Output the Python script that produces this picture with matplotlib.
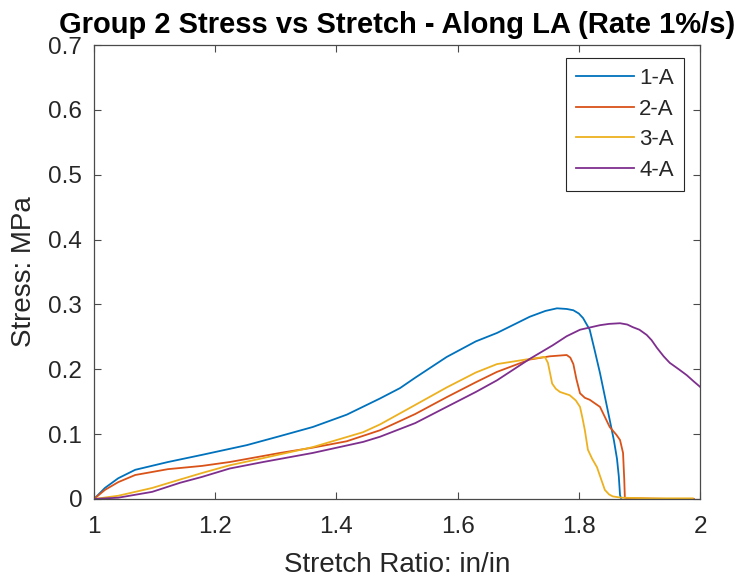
import matplotlib
matplotlib.use("Agg")
import matplotlib.pyplot as plt

# Stress-stretch curves, specimens along LA
stretch_1a = [1.0, 1.018, 1.040, 1.068, 1.122, 1.178, 1.252, 1.307, 1.361, 1.417, 1.472, 1.505, 1.530, 1.582, 1.630, 1.665, 1.719, 1.745, 1.764, 1.780, 1.791, 1.800, 1.807, 1.818, 1.826, 1.835, 1.843, 1.851, 1.858, 1.863, 1.866, 1.868, 1.870]
stress_1a = [0.0, 0.017, 0.032, 0.045, 0.057, 0.068, 0.083, 0.097, 0.111, 0.130, 0.155, 0.171, 0.187, 0.219, 0.243, 0.256, 0.281, 0.290, 0.294, 0.293, 0.291, 0.286, 0.279, 0.261, 0.230, 0.194, 0.158, 0.122, 0.090, 0.062, 0.035, 0.006, 0.0]

stretch_2a = [1.0, 1.018, 1.040, 1.068, 1.122, 1.178, 1.224, 1.307, 1.360, 1.417, 1.472, 1.530, 1.582, 1.630, 1.665, 1.719, 1.752, 1.780, 1.786, 1.791, 1.796, 1.802, 1.810, 1.818, 1.835, 1.851, 1.862, 1.868, 1.873, 1.875, 1.876, 1.880, 1.90, 1.95, 1.99]
stress_2a = [0.0, 0.014, 0.026, 0.037, 0.046, 0.051, 0.057, 0.071, 0.079, 0.089, 0.106, 0.131, 0.157, 0.180, 0.196, 0.215, 0.220, 0.222, 0.218, 0.208, 0.185, 0.163, 0.156, 0.153, 0.142, 0.111, 0.099, 0.091, 0.071, 0.030, 0.002, 0.001, 0.001, 0.0, 0.0]

stretch_3a = [1.0, 1.040, 1.096, 1.142, 1.178, 1.224, 1.279, 1.361, 1.444, 1.472, 1.530, 1.582, 1.630, 1.665, 1.719, 1.744, 1.749, 1.753, 1.756, 1.762, 1.769, 1.785, 1.795, 1.802, 1.806, 1.810, 1.815, 1.822, 1.830, 1.837, 1.843, 1.850, 1.856, 1.870, 1.920, 1.988]
stress_3a = [0.0, 0.005, 0.017, 0.030, 0.040, 0.052, 0.063, 0.080, 0.103, 0.115, 0.145, 0.172, 0.195, 0.208, 0.216, 0.219, 0.210, 0.192, 0.178, 0.170, 0.165, 0.160, 0.152, 0.142, 0.125, 0.106, 0.076, 0.062, 0.049, 0.030, 0.014, 0.007, 0.004, 0.002, 0.001, 0.001]

stretch_4a = [1.0, 1.040, 1.096, 1.142, 1.178, 1.224, 1.279, 1.361, 1.444, 1.472, 1.530, 1.582, 1.630, 1.665, 1.719, 1.757, 1.780, 1.802, 1.835, 1.850, 1.868, 1.880, 1.889, 1.900, 1.912, 1.920, 1.929, 1.940, 1.950, 1.965, 1.978, 1.990, 2.0]
stress_4a = [0.0, 0.002, 0.011, 0.025, 0.034, 0.047, 0.057, 0.071, 0.088, 0.096, 0.117, 0.142, 0.165, 0.183, 0.216, 0.237, 0.251, 0.261, 0.268, 0.270, 0.271, 0.269, 0.265, 0.261, 0.253, 0.245, 0.233, 0.220, 0.210, 0.200, 0.191, 0.181, 0.173]

labels = ["1-A", "2-A", "3-A", "4-A"]
colors = ["#0072BD", "#D95319", "#EDB120", "#7E2F8E"]

x_ticks = [1, 1.2, 1.4, 1.6, 1.8, 2]
x_ticklabels = ["1", "1.2", "1.4", "1.6", "1.8", "2"]
y_ticks = [0, 0.1, 0.2, 0.3, 0.4, 0.5, 0.6, 0.7]
y_ticklabels = ["0", "0.1", "0.2", "0.3", "0.4", "0.5", "0.6", "0.7"]

plt.rcParams["font.family"] = ["Liberation Sans", "DejaVu Sans"]

axis_gray = "#262626"
spine_gray = "#4a4a4a"

fig = plt.figure(figsize=(7.42, 5.83), dpi=100)
ax = fig.add_axes([0.1267, 0.1441, 0.8167, 0.7787])

series = [(stretch_1a, stress_1a), (stretch_2a, stress_2a), (stretch_3a, stress_3a), (stretch_4a, stress_4a)]
for (xs, ys), lab, col in zip(series, labels, colors):
    ax.plot(xs, ys, color=col, lw=1.3, label=lab)

ax.set_xlim(1, 2)
ax.set_ylim(0, 0.7)
ax.set_xticks(x_ticks)
ax.set_xticklabels(x_ticklabels)
ax.set_yticks(y_ticks)
ax.set_yticklabels(y_ticklabels)
ax.tick_params(direction="in", top=True, right=True, length=5, width=0.8,
               color=spine_gray, labelcolor=axis_gray, labelsize=17.5)
ax.tick_params(axis="x", pad=12)
ax.tick_params(axis="y", pad=8.5)
for sp in ax.spines.values():
    sp.set_color(spine_gray)
    sp.set_linewidth(0.9)

ax.set_xlabel("Stretch Ratio: in/in", fontsize=20, color=axis_gray, labelpad=10)
ax.set_ylabel("Stress: MPa", fontsize=20, color=axis_gray, labelpad=8)
ax.set_title("Group 2 Stress vs Stretch - Along LA (Rate 1%/s)", fontsize=21,
             fontweight="bold", color="black", pad=9)

leg = ax.legend(loc="upper right", bbox_to_anchor=(0.9736, 0.9714), borderaxespad=0,
                fontsize=16, frameon=True, fancybox=False, handlelength=2.6,
                borderpad=0.45, labelspacing=0.43, handletextpad=0.25)
leg.get_frame().set_edgecolor(axis_gray)
leg.get_frame().set_linewidth(0.8)
leg.get_frame().set_alpha(1)
for t in leg.get_texts():
    t.set_color(axis_gray)

fig.savefig("out.png", dpi=100)
